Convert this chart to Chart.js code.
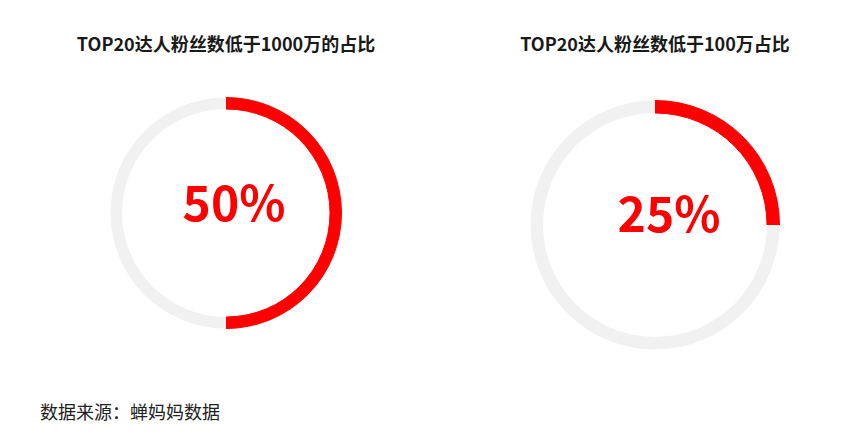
<!DOCTYPE html>
<html>
<head>
<meta charset="utf-8">
<script src="https://cdn.jsdelivr.net/npm/chart.js@4/dist/chart.umd.min.js"></script>
<style>
  html, body { margin: 0; padding: 0; background: #fff; }
  body { width: 844px; height: 446px; position: relative; overflow: hidden;
         font-family: "Noto Sans CJK SC", "Noto Sans", sans-serif; }
  .title { position: absolute; top: 30px; width: 400px; text-align: center;
           font-size: 18px; font-weight: bold; color: #1a1a1a; }
  .box { position: absolute; }
  .source { position: absolute; left: 40px; top: 398px; font-size: 18px; color: #222; }
</style>
</head>
<body>
<div class="title" id="title1" style="left:26px"></div>
<div class="title" id="title2" style="left:455px"></div>
<div class="box" style="left:110px; top:97px; width:232px; height:232px;"><canvas id="chart1"></canvas></div>
<div class="box" style="left:530px; top:100px; width:250px; height:250px;"><canvas id="chart2"></canvas></div>
<div class="source" id="source"></div>
<script>
const titles = ["TOP20达人粉丝数低于1000万的占比", "TOP20达人粉丝数低于100万占比"];
const shares = [50, 25];
const labels = ["占比", "其他"];
const sourceText = "数据来源：蝉妈妈数据";

document.getElementById("title1").textContent = titles[0];
document.getElementById("title2").textContent = titles[1];
document.getElementById("source").textContent = sourceText;

// draws the percentage in the middle of the ring
const centerText = {
  id: "centerText",
  afterDraw(chart, args, opts) {
    const ctx = chart.ctx;
    const meta = chart.getDatasetMeta(0).data[0];
    ctx.save();
    ctx.font = "bold 48px 'Noto Sans CJK SC'";
    ctx.fillStyle = "#ff0000";
    ctx.textAlign = "center";
    ctx.textBaseline = "middle";
    ctx.fillText(opts.text, meta.x + opts.dx, meta.y + opts.dy);
    ctx.restore();
  },
};

function makeRing(id, value, cutout, dx, dy) {
  return new Chart(document.getElementById(id), {
    type: "doughnut",
    data: {
      labels: labels,
      datasets: [
        {
          data: [value, 100 - value],
          backgroundColor: ["#ff0000", "#f1f1f1"],
          borderColor: ["#ff0000", "#f1f1f1"],
          borderWidth: [1, 0],
          hoverOffset: 0,
        },
      ],
    },
    options: {
      responsive: true,
      maintainAspectRatio: false,
      animation: false,
      cutout: cutout,
      layout: { padding: 0 },
      plugins: {
        legend: { display: false },
        tooltip: { enabled: false },
        centerText: { text: value + "%", dx: dx, dy: dy },
      },
    },
    plugins: [centerText],
  });
}

makeRing("chart1", shares[0], 104, 8, -10);
makeRing("chart2", shares[1], 112, 14, -11);
</script>
</body>
</html>
